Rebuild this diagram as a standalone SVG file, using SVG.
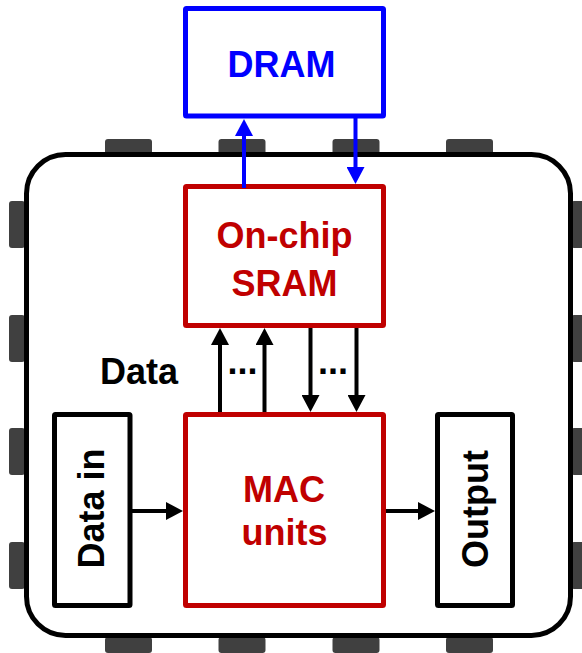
<svg xmlns="http://www.w3.org/2000/svg" width="582" height="653" viewBox="0 0 582 653">
  <style>
    .t { font-family: "Liberation Sans", Arial, sans-serif; font-weight: bold; font-size: 36px; text-anchor: middle; }
    .box { fill: #FFFFFF; stroke-width: 5; }
    .red { stroke: #C00000; }
    .blk { stroke: #000000; }
    .pin { fill: #404040; }
    .arrB { stroke: #000000; stroke-width: 4; fill: none; }
    .arrU { stroke: #0000FF; stroke-width: 4; fill: none; }
  </style>
  <defs>
    <marker id="headK" markerUnits="userSpaceOnUse" markerWidth="18" markerHeight="18" refX="1" refY="9" orient="auto">
      <path d="M0,0 L17,9 L0,18 Z" fill="#000000"/>
    </marker>
    <marker id="headB" markerUnits="userSpaceOnUse" markerWidth="18" markerHeight="18" refX="1" refY="9" orient="auto">
      <path d="M0,0 L17,9 L0,18 Z" fill="#0000FF"/>
    </marker>
  </defs>
  <rect width="582" height="653" fill="#FFFFFF"/>

  <g id="chip">
    <g id="pins">
      <rect class="pin" x="105" y="139" width="47" height="16" rx="3"/>
      <rect class="pin" x="218.5" y="139" width="47" height="16" rx="3"/>
      <rect class="pin" x="332.5" y="139" width="47" height="16" rx="3"/>
      <rect class="pin" x="446" y="139" width="47" height="16" rx="3"/>
      <rect class="pin" x="105" y="637" width="47" height="16" rx="3"/>
      <rect class="pin" x="218.5" y="637" width="47" height="16" rx="3"/>
      <rect class="pin" x="332.5" y="637" width="47" height="16" rx="3"/>
      <rect class="pin" x="446" y="637" width="47" height="16" rx="3"/>
      <rect class="pin" x="9" y="201" width="16" height="47" rx="3"/>
      <rect class="pin" x="9" y="315" width="16" height="47" rx="3"/>
      <rect class="pin" x="9" y="428" width="16" height="47" rx="3"/>
      <rect class="pin" x="9" y="542" width="16" height="47" rx="3"/>
      <rect class="pin" x="571" y="201" width="16" height="47" rx="3"/>
      <rect class="pin" x="571" y="315" width="16" height="47" rx="3"/>
      <rect class="pin" x="571" y="428" width="16" height="47" rx="3"/>
      <rect class="pin" x="571" y="542" width="16" height="47" rx="3"/>
    </g>
    <rect x="26.5" y="154.5" width="544" height="481" rx="39" ry="39" fill="none" stroke="#000000" stroke-width="5"/>
  </g>

  <g id="dram">
    <rect class="box" x="185.5" y="8.5" width="198" height="107.5" rx="1" stroke="#0000FF"/>
    <text class="t" x="281.5" y="77" fill="#0000FF">DRAM</text>
  </g>

  <g id="sram">
    <rect class="box red" x="185.5" y="186.5" width="198" height="139" rx="1"/>
    <text class="t" x="284.5" y="248" fill="#C00000">On-chip</text>
    <text class="t" x="284.5" y="296" fill="#C00000">SRAM</text>
  </g>

  <g id="mac">
    <rect class="box red" x="185.5" y="414.5" width="198" height="191" rx="1"/>
    <text class="t" x="284" y="501.5" fill="#C00000">MAC</text>
    <text class="t" x="284.5" y="545" fill="#C00000">units</text>
  </g>

  <g id="datain">
    <rect class="box blk" x="54.5" y="414.5" width="75.5" height="191" rx="1"/>
    <text class="t" transform="translate(103.5,508.5) rotate(-90)" x="0" y="0" fill="#000000">Data in</text>
  </g>

  <g id="output">
    <rect class="box blk" x="437.5" y="414.5" width="75" height="191" rx="1"/>
    <text class="t" transform="translate(488,509) rotate(-90)" x="0" y="0" fill="#000000">Output</text>
  </g>

  <g id="labels">
    <text class="t" x="139" y="384" fill="#000000">Data</text>
    <text class="t" x="242.5" y="373.5" fill="#000000">...</text>
    <text class="t" x="333" y="373.5" fill="#000000">...</text>
  </g>

  <g id="connectors">
    <line class="arrU" x1="244" y1="188" x2="244" y2="135" marker-end="url(#headB)"/>
    <line class="arrU" x1="355.5" y1="117" x2="355.5" y2="168" marker-end="url(#headB)"/>
    <line class="arrB" x1="220" y1="412" x2="220" y2="344" marker-end="url(#headK)"/>
    <line class="arrB" x1="264.5" y1="412" x2="264.5" y2="344" marker-end="url(#headK)"/>
    <line class="arrB" x1="310.5" y1="328" x2="310.5" y2="396" marker-end="url(#headK)"/>
    <line class="arrB" x1="356.5" y1="328" x2="356.5" y2="396" marker-end="url(#headK)"/>
    <line class="arrB" x1="132" y1="511" x2="167" y2="511" marker-end="url(#headK)"/>
    <line class="arrB" x1="386" y1="511" x2="419" y2="511" marker-end="url(#headK)"/>
  </g>
</svg>
